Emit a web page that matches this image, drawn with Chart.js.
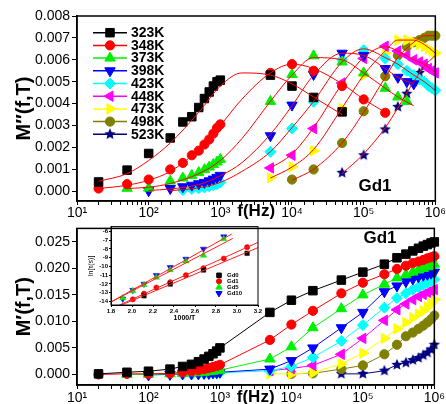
<!DOCTYPE html>
<html>
<head>
<meta charset="utf-8">
<script src="https://cdn.jsdelivr.net/npm/chart.js@4.4.1/dist/chart.umd.min.js"></script>
<style>
  body { margin: 0; background: #fff; }
  #wrap { position: relative; width: 446px; height: 404px; overflow: hidden; background: #fff; }
  canvas { position: absolute; }
</style>
</head>
<body>
<div id="wrap">
  <canvas id="cTop" width="446" height="222" style="left:0;top:0;width:446px;height:222px"></canvas>
  <canvas id="cBot" width="446" height="190" style="left:0;top:218px;width:446px;height:190px"></canvas>
  <canvas id="cIns" width="180" height="100" style="left:84px;top:222px;width:180px;height:100px"></canvas>
</div>
<script>
// M''(f,T) and M'(f,T) of Gd1 + inset ln(tau) vs 1000/T

const temps = ['323K', '348K', '373K', '398K', '423K', '448K', '473K', '498K', '523K'];
const freq = [20, 50, 100, 200, 300, 400, 500, 600, 700, 800, 900, 1000,
  5000, 10000, 20000, 50000, 100000, 200000, 300000, 400000, 500000, 600000, 700000, 800000, 900000, 1000000];

// M'' (top panel), one row per temperature
const mImag = [
  [0.00042, 0.00096, 0.00172, 0.00243, 0.00316, 0.0034, 0.00382, 0.00423, 0.00453, 0.0048, 0.005, 0.00507, 0.0053, 0.0048, 0.00428, 0.00362, null, null, null, null, null, null, null, null, null, null],
  [0.00012, 0.00032, 0.00053, 0.00099, 0.00129, 0.00164, 0.00185, 0.00213, 0.00236, 0.00263, 0.00289, 0.00305, 0.0054, 0.0058, 0.0055, 0.0048, 0.00419, 0.00358, null, null, null, null, null, null, null, null],
  [null, 0.00013, 0.00014, 0.00046, 0.0006, 0.00072, 0.00085, 0.00098, 0.0011, 0.00122, 0.00133, 0.00145, 0.0041, 0.00533, 0.00618, 0.0059, 0.0054, 0.0047, 0.0043, 0.0041, null, null, null, null, null, null],
  [null, null, 0.00002, 0.00012, 0.0002, 0.00027, 0.00034, 0.0004, 0.00047, 0.00055, 0.00063, 0.00072, 0.00253, 0.00393, 0.00533, 0.0063, 0.0062, 0.0056, 0.0052, 0.005, 0.0049, null, null, null, null, null],
  [null, null, null, null, 0.00005, 0.0001, 0.00013, 0.00017, 0.00022, 0.00027, 0.00032, 0.0004, 0.0018, 0.00286, 0.00408, 0.006, 0.00644, 0.00606, 0.0058, 0.0055, 0.0053, 0.0051, 0.005, 0.0048, 0.0047, 0.0046],
  [null, null, null, null, null, null, null, null, null, null, null, null, 0.00106, 0.00164, 0.00286, 0.00494, 0.00606, 0.00662, 0.0064, 0.0062, 0.006, 0.0059, 0.0058, 0.0056, 0.0055, 0.0054],
  [null, null, null, null, null, null, null, null, null, null, null, null, 0.00061, 0.00111, 0.00184, 0.00378, 0.0053, 0.0063, 0.0069, 0.0069, 0.0068, 0.0067, 0.0066, 0.0065, 0.0064, 0.0063],
  [null, null, null, null, null, null, null, null, null, null, null, null, null, 0.00053, 0.00099, 0.0022, 0.00365, 0.00525, 0.0062, 0.0066, 0.0068, 0.0069, 0.007, 0.0071, 0.0071, 0.0071],
  [null, null, null, null, null, null, null, null, null, null, null, null, null, null, null, 0.00084, 0.00164, 0.00282, 0.00385, 0.00445, 0.005, 0.0054, 0.0057, null, null, null]
];

// fitted curves of the top panel
const fitFreq = [20, 50, 100, 200, 500, 1000, 2000, 5000, 10000, 20000, 50000, 100000, 200000, 300000, 500000, 700000, 1000000];
const mImagFit = [
  [0.00045, 0.0008, 0.0014, 0.0022, 0.0036, 0.0048, 0.0054, 0.0053, 0.0049, 0.0043, 0.0035, null, null, null, null, null, null],
  [0.00012, 0.00027, 0.0005, 0.0009, 0.0019, 0.003, 0.0042, 0.0054, 0.0058, 0.0056, 0.0049, 0.0042, 0.0036, null, null, null, null],
  [null, 0.00012, 0.00018, 0.00035, 0.0008, 0.0014, 0.0024, 0.0041, 0.0053, 0.0061, 0.006, 0.0054, 0.0047, 0.0043, 0.0039, null, null],
  [null, null, 0.00003, 0.0001, 0.0003, 0.0007, 0.0013, 0.0026, 0.0039, 0.0053, 0.0063, 0.0062, 0.0056, 0.0052, 0.0049, null, null],
  [null, null, null, 0.00002, 0.00015, 0.0004, 0.0009, 0.0018, 0.0029, 0.0041, 0.0059, 0.0065, 0.0061, 0.0058, 0.0053, 0.005, 0.0046],
  [null, null, null, null, null, null, null, 0.00105, 0.0017, 0.0029, 0.0049, 0.0061, 0.0066, 0.0064, 0.006, 0.0058, 0.0054],
  [null, null, null, null, null, null, null, 0.0006, 0.0011, 0.0019, 0.0038, 0.0053, 0.0064, 0.0069, 0.0069, 0.0067, 0.0063],
  [null, null, null, null, null, null, null, null, 0.0005, 0.001, 0.0022, 0.0036, 0.0052, 0.0061, 0.0068, 0.0071, 0.0071],
  [null, null, null, null, null, null, null, null, null, null, 0.0008, 0.0017, 0.0029, 0.0038, 0.005, 0.0057, 0.0062]
];

// M' (bottom panel)
const mReal = [
  [0.0001, 0.0004, 0.0006, 0.001, 0.0015, 0.0019, 0.0024, 0.0029, 0.0034, 0.0039, 0.0044, 0.005, 0.0117, 0.014, 0.0158, 0.0178, 0.0193, 0.0208, 0.022, 0.0227, 0.0233, 0.0238, 0.0242, 0.0245, 0.0248, 0.025],
  [0, 0.0001, 0.0001, 0.0002, 0.0004, 0.0006, 0.0008, 0.001, 0.0012, 0.0014, 0.0016, 0.0018, 0.0065, 0.0094, 0.012, 0.0153, 0.0173, 0.0189, 0.0199, 0.0205, 0.021, 0.0213, 0.0216, 0.0219, 0.0221, 0.0223],
  [null, 0, 0, 0.0001, 0.0002, 0.0003, 0.0003, 0.0004, 0.0005, 0.0006, 0.0007, 0.0008, 0.0029, 0.0052, 0.0088, 0.0124, 0.015, 0.017, 0.0182, 0.0188, 0.0193, 0.0197, 0.02, 0.0203, 0.0206, 0.0208],
  [null, null, -0.0001, 0, 0.0001, 0.0001, 0.0001, 0.0002, 0.0002, 0.0003, 0.0003, 0.0004, 0.001, 0.0026, 0.005, 0.0088, 0.0117, 0.0156, 0.0167, 0.0175, 0.018, 0.0184, 0.0187, 0.0189, 0.0191, 0.0193],
  [null, null, null, null, 0, 0, 0.0001, 0.0001, 0.0001, 0.0002, 0.0002, 0.0003, 0.0007, 0.0015, 0.0032, 0.0063, 0.0093, 0.0126, 0.0144, 0.0153, 0.016, 0.0165, 0.0169, 0.0173, 0.0176, 0.0179],
  [null, null, null, null, null, null, null, null, null, null, null, null, 0.0007, 0.0011, 0.0017, 0.0038, 0.0068, 0.0102, 0.0122, 0.0133, 0.0141, 0.0147, 0.0151, 0.0155, 0.0158, 0.016],
  [null, null, null, null, null, null, null, null, null, null, null, null, 0.0001, 0.0001, 0.0003, 0.002, 0.004, 0.0068, 0.0086, 0.0098, 0.0107, 0.0114, 0.012, 0.0127, 0.0134, 0.0141],
  [null, null, null, null, null, null, null, null, null, null, null, null, null, 0.0001, 0.0002, 0.001, 0.0017, 0.0038, 0.0056, 0.0072, 0.0079, 0.0086, 0.0092, 0.0098, 0.0104, 0.0111],
  [null, null, null, null, null, null, null, null, null, null, null, null, null, null, null, 0.0001, 0.0001, 0.0007, 0.0018, 0.0022, 0.0027, 0.0031, 0.0036, 0.0041, 0.0047, 0.0056]
];

// inset: ln(tau) vs 1000/T
const samples = ['Gd0', 'Gd1', 'Gd5', 'Gd10'];
const invT = [1.912, 2.008, 2.114, 2.232, 2.364, 2.513, 2.681, 2.874, 3.096];
const lnTau = [
  [null, null, -13.35, null, -12.0, null, -10.4, null, -8.5],
  [null, -13.75, -13.1, -12.4, -11.8, -11.0, -10.2, -9.1, -7.8],
  [-13.6, -12.8, -12.1, -11.25, -10.4, -9.4, -8.74, -6.85, null],
  [-13.7, -12.7, -12.0, -11.0, -10.1, -9.15, -8.0, -6.6, null]
];
const lnTauFitX = [[1.9, 3.2], [1.88, 3.2], [1.81, 2.96], [1.8, 2.95]];
const lnTauFitY = [[-14.4, -7.85], [-14.4, -7.25], [-14.0, -6.8], [-14.05, -6.3]];

const colors = ['#000000', '#ff0000', '#00f000', '#0000ff', '#00ffff', '#ff00ff', '#ffff00', '#808000', '#000080'];
const FONT = "'Liberation Sans', Arial, Helvetica, sans-serif";

Chart.defaults.font.family = FONT;
Chart.defaults.color = '#000';
Chart.defaults.animation = false;

function starImg(r, color) {
  const c = document.createElement('canvas');
  const s = Math.ceil(2 * r + 2);
  c.width = s; c.height = s;
  const g = c.getContext('2d');
  g.fillStyle = color;
  g.beginPath();
  for (let i = 0; i < 10; i++) {
    const a = -Math.PI / 2 + i * Math.PI / 5;
    const rr = i % 2 ? r * 0.45 : r;
    g.lineTo(s / 2 + rr * Math.cos(a), s / 2 + rr * Math.sin(a));
  }
  g.closePath();
  g.fill();
  return c;
}

const marks = [
  { style: 'rect', r: 6, rot: 0 },
  { style: 'circle', r: 4.6, rot: 0 },
  { style: 'triangle', r: 6, rot: 0 },
  { style: 'triangle', r: 6, rot: 180 },
  { style: 'rectRot', r: 5.5, rot: 0 },
  { style: 'triangle', r: 6, rot: 270 },
  { style: 'triangle', r: 6, rot: 90 },
  { style: 'circle', r: 4.6, rot: 0 },
  { style: starImg(6, '#000080'), r: 6, rot: 0 }
];
const smallMarks = [
  { style: 'rect', r: 3.2, rot: 0 },
  { style: 'circle', r: 2.6, rot: 0 },
  { style: 'triangle', r: 3.6, rot: 0 },
  { style: 'triangle', r: 3.6, rot: 180 }
];

function pts(xs, ys) {
  const out = [];
  ys.forEach((y, i) => { if (y !== null) out.push({ x: xs[i], y: y }); });
  return out;
}

const SUP = { 1: '\u00b9', 2: '\u00b2', 3: '\u00b3', 4: '\u2074', 5: '\u2075', 6: '\u2076' };
function logLabel(v) {
  const e = Math.log10(v);
  return Math.abs(e - Math.round(e)) < 1e-6 ? '10' + SUP[Math.round(e)] : '';
}

const frame = {
  id: 'frame',
  afterDraw(chart, args, opts) {
    const { ctx, chartArea: a } = chart;
    ctx.save();
    ctx.strokeStyle = '#000';
    ctx.lineWidth = opts.width || 1.5;
    ctx.strokeRect(a.left, a.top, a.right - a.left, a.bottom - a.top);
    ctx.restore();
  }
};

const notes = {
  id: 'notes',
  afterDraw(chart, args, opts) {
    const ctx = chart.ctx;
    ctx.save();
    (opts.texts || []).forEach(t => {
      ctx.font = t.font;
      ctx.fillStyle = '#000';
      ctx.textAlign = 'center';
      ctx.textBaseline = 'middle';
      ctx.fillText(t.text, t.x, t.y);
    });
    const lg = opts.legend;
    if (lg) {
      lg.items.forEach((it, i) => {
        const y = lg.y0 + i * lg.dy;
        if (lg.x1 > lg.x0) {
          ctx.strokeStyle = it.color;
          ctx.lineWidth = 1.5;
          ctx.beginPath(); ctx.moveTo(lg.x0, y); ctx.lineTo(lg.x1, y); ctx.stroke();
        }
        ctx.fillStyle = it.color;
        ctx.strokeStyle = it.color;
        ctx.lineWidth = 1;
        Chart.helpers.drawPoint(ctx, { pointStyle: it.mark.style, radius: it.mark.r, rotation: it.mark.rot, borderWidth: 1 }, lg.mx, y);
        ctx.fillStyle = '#000';
        ctx.font = lg.font;
        ctx.textAlign = 'left';
        ctx.textBaseline = 'middle';
        ctx.fillText(it.label, lg.tx, y + 0.5);
      });
    }
    ctx.restore();
  }
};

function fixW(w) { return s => { s.width = w; }; }
function fixH(h) { return s => { s.height = h; }; }

function logX(h, pad) {
  return {
    type: 'logarithmic', min: 10, max: 1000000,
    afterFit: fixH(h),
    border: { display: true, color: '#000', width: 1.5 },
    grid: { drawOnChartArea: false, drawTicks: true, tickLength: 4, color: '#000', lineWidth: 1 },
    ticks: { autoSkip: false, maxRotation: 0, minRotation: 0, padding: pad, font: { size: 14 }, color: '#000', callback: v => logLabel(v) },
    title: { display: true, text: 'f(Hz)', font: { size: 17, weight: 'bold' }, color: '#000', padding: { top: 0, bottom: 0 } }
  };
}

function linY(min, max, step, labelStep, title) {
  return {
    type: 'linear', min: min, max: max,
    afterFit: fixW(77),
    border: { display: true, color: '#000', width: 1.5 },
    grid: { drawOnChartArea: false, drawTicks: true, tickLength: 5, color: '#000', lineWidth: 1 },
    ticks: {
      stepSize: step, includeBounds: false, padding: 2, font: { size: 14 }, color: '#000',
      callback: v => (Math.abs(v / labelStep - Math.round(v / labelStep)) < 1e-6 ? v.toFixed(3) : '')
    },
    title: { display: true, text: title, font: { size: 20, weight: 'bold' }, color: '#000', padding: { top: 12, bottom: 0 } }
  };
}

// ---------- top panel: M'' ----------
const topSets = [];
temps.forEach((t, i) => {
  topSets.push({
    label: t, data: pts(freq, mImag[i]), showLine: false,
    pointStyle: marks[i].style, pointRadius: marks[i].r, pointRotation: marks[i].rot,
    pointBackgroundColor: colors[i], pointBorderColor: colors[i], pointBorderWidth: 1,
    clip: false, order: 2
  });
  topSets.push({
    label: t + ' fit', data: pts(fitFreq, mImagFit[i]), showLine: true, pointRadius: 0,
    borderColor: '#ff0000', borderWidth: 1, cubicInterpolationMode: 'monotone', order: 1
  });
});

new Chart(document.getElementById('cTop'), {
  type: 'scatter',
  data: { datasets: topSets },
  options: {
    responsive: false, maintainAspectRatio: false, animation: false,
    layout: { padding: { left: 0, right: 6, top: 16, bottom: 0 } },
    scales: {
      x: logX(21, 0),
      y: linY(-0.00045, 0.008, 0.0005, 0.001, 'M\u2033(f,T)')
    },
    plugins: {
      legend: { display: false }, tooltip: { enabled: false },
      frame: { width: 1.5 },
      notes: {
        texts: [{ text: 'Gd1', x: 375, y: 186, font: 'bold 17px ' + FONT }],
        legend: {
          x0: 93, x1: 127, mx: 110, tx: 131, y0: 32.7, dy: 12.7, font: 'bold 14px ' + FONT,
          items: temps.map((t, i) => ({ label: t, color: colors[i], mark: marks[i] }))
        }
      }
    }
  },
  plugins: [frame, notes]
});

// ---------- bottom panel: M' ----------
const botSets = temps.map((t, i) => ({
  label: t, data: pts(freq, mReal[i]), showLine: true, borderColor: colors[i], borderWidth: 1, tension: 0,
  pointStyle: marks[i].style, pointRadius: marks[i].r, pointRotation: marks[i].rot,
  pointBackgroundColor: colors[i], pointBorderColor: colors[i], pointBorderWidth: 1,
  clip: false
}));

new Chart(document.getElementById('cBot'), {
  type: 'scatter',
  data: { datasets: botSets },
  options: {
    responsive: false, maintainAspectRatio: false, animation: false,
    layout: { padding: { left: 0, right: 6, top: 5, bottom: 0 } },
    scales: {
      x: logX(23, 1),
      y: linY(-0.002, 0.02755, 0.0025, 0.005, 'M\u2032(f,T)')
    },
    plugins: {
      legend: { display: false }, tooltip: { enabled: false },
      frame: { width: 1.5 },
      notes: { texts: [{ text: 'Gd1', x: 380, y: 20, font: 'bold 17px ' + FONT }] }
    }
  },
  plugins: [frame, notes]
});

// ---------- inset: ln(tau) vs 1000/T ----------
const insColors = ['#000000', '#ff0000', '#00f000', '#0000ff'];
const insSets = [];
samples.forEach((s, i) => {
  insSets.push({
    label: s, data: pts(invT, lnTau[i]), showLine: false,
    pointStyle: smallMarks[i].style, pointRadius: smallMarks[i].r, pointRotation: smallMarks[i].rot,
    pointBackgroundColor: insColors[i], pointBorderColor: insColors[i], pointBorderWidth: 0.5, order: 2
  });
  insSets.push({
    label: s + ' fit', data: pts(lnTauFitX[i], lnTauFitY[i]), showLine: true, pointRadius: 0,
    borderColor: '#ff2020', borderWidth: 1, order: 1
  });
});

new Chart(document.getElementById('cIns'), {
  type: 'scatter',
  data: { datasets: insSets },
  options: {
    responsive: false, maintainAspectRatio: false, animation: false,
    layout: { padding: { left: 0, right: 6, top: 3, bottom: 0 } },
    scales: {
      x: {
        type: 'linear', min: 1.8, max: 3.2, afterFit: fixH(17),
        border: { display: true, color: '#000', width: 1 },
        grid: { drawOnChartArea: false, tickLength: 2, color: '#000' },
        ticks: { stepSize: 0.2, includeBounds: false, maxRotation: 0, autoSkip: false, padding: 1, font: { size: 6, weight: 'bold' }, color: '#000', callback: v => v.toFixed(1) },
        title: { display: true, text: '1000/T', font: { size: 7, weight: 'bold' }, color: '#000', padding: { top: 0, bottom: 0 } }
      },
      y: {
        type: 'linear', min: -14.4, max: -5.45, afterFit: fixW(27),
        border: { display: true, color: '#000', width: 1 },
        grid: { drawOnChartArea: false, tickLength: 2, color: '#000' },
        ticks: { stepSize: 1, includeBounds: false, autoSkip: false, padding: 1, font: { size: 6, weight: 'bold' }, color: '#000', callback: v => String(Math.round(v)) },
        title: { display: true, text: 'ln[\u03c4(s)]', font: { size: 7 }, color: '#000', padding: { top: 3, bottom: 0 } }
      }
    },
    plugins: {
      legend: { display: false }, tooltip: { enabled: false },
      frame: { width: 1 },
      notes: {
        legend: {
          x0: 0, x1: 0, mx: 135, tx: 143, y0: 53.3, dy: 6, font: 'bold 6px ' + FONT,
          items: samples.map((s, i) => ({ label: s, color: insColors[i], mark: smallMarks[i] }))
        }
      }
    }
  },
  plugins: [frame, notes]
});
</script>
</body>
</html>
